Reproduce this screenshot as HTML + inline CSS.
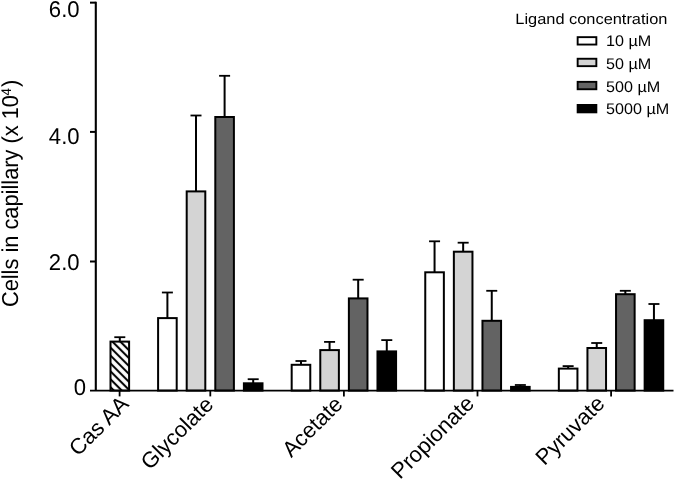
<!DOCTYPE html>
<html><head><meta charset="utf-8"><style>
html,body{margin:0;padding:0;background:#fff;}
body{width:675px;height:481px;overflow:hidden;}
svg{display:block;}
text{text-rendering:geometricPrecision;}
</style></head><body>
<svg width="675" height="481" viewBox="0 0 675 481">
<defs><pattern id="hatch" patternUnits="userSpaceOnUse" x="3.15" y="0" width="5.6" height="5.6" patternTransform="rotate(-45)"><rect x="-1" y="-1" width="8" height="8" fill="#fff"/><rect x="1.75" y="-1" width="2.1" height="8" fill="#000"/></pattern></defs>
<line x1="119.80" y1="341.60" x2="119.80" y2="337.20" stroke="#000" stroke-width="2.0"/>
<line x1="114.30" y1="337.20" x2="125.30" y2="337.20" stroke="#000" stroke-width="1.8"/>
<line x1="167.40" y1="318.10" x2="167.40" y2="292.50" stroke="#000" stroke-width="2.0"/>
<line x1="161.90" y1="292.50" x2="172.90" y2="292.50" stroke="#000" stroke-width="1.8"/>
<line x1="196.00" y1="191.40" x2="196.00" y2="115.50" stroke="#000" stroke-width="2.0"/>
<line x1="190.50" y1="115.50" x2="201.50" y2="115.50" stroke="#000" stroke-width="1.8"/>
<line x1="224.60" y1="117.00" x2="224.60" y2="75.80" stroke="#000" stroke-width="2.0"/>
<line x1="219.10" y1="75.80" x2="230.10" y2="75.80" stroke="#000" stroke-width="1.8"/>
<line x1="253.20" y1="383.30" x2="253.20" y2="379.20" stroke="#000" stroke-width="2.0"/>
<line x1="247.70" y1="379.20" x2="258.70" y2="379.20" stroke="#000" stroke-width="1.8"/>
<line x1="300.98" y1="364.80" x2="300.98" y2="361.00" stroke="#000" stroke-width="2.0"/>
<line x1="295.48" y1="361.00" x2="306.48" y2="361.00" stroke="#000" stroke-width="1.8"/>
<line x1="329.58" y1="350.10" x2="329.58" y2="341.90" stroke="#000" stroke-width="2.0"/>
<line x1="324.08" y1="341.90" x2="335.08" y2="341.90" stroke="#000" stroke-width="1.8"/>
<line x1="358.18" y1="298.40" x2="358.18" y2="279.70" stroke="#000" stroke-width="2.0"/>
<line x1="352.68" y1="279.70" x2="363.68" y2="279.70" stroke="#000" stroke-width="1.8"/>
<line x1="386.78" y1="351.40" x2="386.78" y2="340.10" stroke="#000" stroke-width="2.0"/>
<line x1="381.28" y1="340.10" x2="392.28" y2="340.10" stroke="#000" stroke-width="1.8"/>
<line x1="434.56" y1="272.30" x2="434.56" y2="241.30" stroke="#000" stroke-width="2.0"/>
<line x1="429.06" y1="241.30" x2="440.06" y2="241.30" stroke="#000" stroke-width="1.8"/>
<line x1="463.16" y1="251.70" x2="463.16" y2="242.70" stroke="#000" stroke-width="2.0"/>
<line x1="457.66" y1="242.70" x2="468.66" y2="242.70" stroke="#000" stroke-width="1.8"/>
<line x1="491.76" y1="320.80" x2="491.76" y2="290.80" stroke="#000" stroke-width="2.0"/>
<line x1="486.26" y1="290.80" x2="497.26" y2="290.80" stroke="#000" stroke-width="1.8"/>
<line x1="520.36" y1="386.90" x2="520.36" y2="385.00" stroke="#000" stroke-width="2.0"/>
<line x1="514.86" y1="385.00" x2="525.86" y2="385.00" stroke="#000" stroke-width="1.8"/>
<line x1="568.14" y1="368.60" x2="568.14" y2="366.10" stroke="#000" stroke-width="2.0"/>
<line x1="562.64" y1="366.10" x2="573.64" y2="366.10" stroke="#000" stroke-width="1.8"/>
<line x1="596.74" y1="348.00" x2="596.74" y2="343.00" stroke="#000" stroke-width="2.0"/>
<line x1="591.24" y1="343.00" x2="602.24" y2="343.00" stroke="#000" stroke-width="1.8"/>
<line x1="625.34" y1="294.20" x2="625.34" y2="290.80" stroke="#000" stroke-width="2.0"/>
<line x1="619.84" y1="290.80" x2="630.84" y2="290.80" stroke="#000" stroke-width="1.8"/>
<line x1="653.94" y1="320.20" x2="653.94" y2="304.00" stroke="#000" stroke-width="2.0"/>
<line x1="648.44" y1="304.00" x2="659.44" y2="304.00" stroke="#000" stroke-width="1.8"/>
<rect x="110.50" y="341.60" width="18.60" height="49.00" fill="url(#hatch)" stroke="#000" stroke-width="2"/>
<rect x="158.10" y="318.10" width="18.60" height="72.50" fill="#ffffff" stroke="#000" stroke-width="2"/>
<rect x="186.70" y="191.40" width="18.60" height="199.20" fill="#d4d4d4" stroke="#000" stroke-width="2"/>
<rect x="215.30" y="117.00" width="18.60" height="273.60" fill="#636363" stroke="#000" stroke-width="2"/>
<rect x="243.90" y="383.30" width="18.60" height="7.30" fill="#000000" stroke="#000" stroke-width="2"/>
<rect x="291.68" y="364.80" width="18.60" height="25.80" fill="#ffffff" stroke="#000" stroke-width="2"/>
<rect x="320.28" y="350.10" width="18.60" height="40.50" fill="#d4d4d4" stroke="#000" stroke-width="2"/>
<rect x="348.88" y="298.40" width="18.60" height="92.20" fill="#636363" stroke="#000" stroke-width="2"/>
<rect x="377.48" y="351.40" width="18.60" height="39.20" fill="#000000" stroke="#000" stroke-width="2"/>
<rect x="425.26" y="272.30" width="18.60" height="118.30" fill="#ffffff" stroke="#000" stroke-width="2"/>
<rect x="453.86" y="251.70" width="18.60" height="138.90" fill="#d4d4d4" stroke="#000" stroke-width="2"/>
<rect x="482.46" y="320.80" width="18.60" height="69.80" fill="#636363" stroke="#000" stroke-width="2"/>
<rect x="511.06" y="386.90" width="18.60" height="3.70" fill="#000000" stroke="#000" stroke-width="2"/>
<rect x="558.84" y="368.60" width="18.60" height="22.00" fill="#ffffff" stroke="#000" stroke-width="2"/>
<rect x="587.44" y="348.00" width="18.60" height="42.60" fill="#d4d4d4" stroke="#000" stroke-width="2"/>
<rect x="616.04" y="294.20" width="18.60" height="96.40" fill="#636363" stroke="#000" stroke-width="2"/>
<rect x="644.64" y="320.20" width="18.60" height="70.40" fill="#000000" stroke="#000" stroke-width="2"/>
<line x1="95.8" y1="1.8" x2="95.8" y2="390.6" stroke="#000" stroke-width="2.1"/>
<line x1="90" y1="390.6" x2="673.5" y2="390.6" stroke="#000" stroke-width="1.9"/>
<line x1="90" y1="2.65" x2="95.8" y2="2.65" stroke="#000" stroke-width="2.0"/>
<line x1="90" y1="131.9" x2="95.8" y2="131.9" stroke="#000" stroke-width="2.0"/>
<line x1="90" y1="261.5" x2="95.8" y2="261.5" stroke="#000" stroke-width="2.0"/>
<line x1="119.6" y1="390.6" x2="119.6" y2="396.4" stroke="#000" stroke-width="1.8"/>
<line x1="210.3" y1="390.6" x2="210.3" y2="396.4" stroke="#000" stroke-width="1.8"/>
<line x1="343.9" y1="390.6" x2="343.9" y2="396.4" stroke="#000" stroke-width="1.8"/>
<line x1="477.5" y1="390.6" x2="477.5" y2="396.4" stroke="#000" stroke-width="1.8"/>
<line x1="611.1" y1="390.6" x2="611.1" y2="396.4" stroke="#000" stroke-width="1.8"/>
<g font-family="Liberation Sans, Arial, sans-serif" font-size="22.8" text-anchor="end" fill="#000">
<text transform="translate(79.6,17.4) scale(0.97,1)">6.0</text>
<text transform="translate(79.6,143.70000000000002) scale(0.97,1)">4.0</text>
<text transform="translate(79.6,269.59999999999997) scale(0.97,1)">2.0</text>
<text transform="translate(86.0,395.2) scale(0.97,1)">0</text>
</g>
<text transform="translate(17.6,307.1) rotate(-90) scale(0.948,1)" font-family="Liberation Sans, Arial, sans-serif" font-size="23" fill="#000">Cells in capillary (x 10<tspan dx="-0.6" dy="-6.3" font-size="14">4</tspan><tspan dx="1.2" dy="6.3">)</tspan></text>
<g font-family="Liberation Sans, Arial, sans-serif" font-size="22" text-anchor="end" fill="#000">
<text transform="translate(129.9,405.2) rotate(-45)">Cas AA</text>
<text transform="translate(214.6,405.8) rotate(-45)">Glycolate</text>
<text transform="translate(343.9,405.5) rotate(-45)">Acetate</text>
<text transform="translate(475.3,404.8) rotate(-45)">Propionate</text>
<text transform="translate(605.9,404.9) rotate(-45)">Pyruvate</text>
</g>
<g font-family="Liberation Sans, Arial, sans-serif" fill="#000">
<text transform="translate(515.3,24.3) scale(1.092,1)" font-size="15">Ligand concentration</text>
<rect x="577.65" y="37.15" width="18.7" height="7.4" fill="#ffffff" stroke="#000" stroke-width="1.9"/>
<text transform="translate(606.0,46.2) scale(1.05,1)" font-size="15.4">10 µM</text>
<rect x="577.65" y="58.75" width="18.7" height="7.4" fill="#d4d4d4" stroke="#000" stroke-width="1.9"/>
<text transform="translate(606.0,68.6) scale(1.05,1)" font-size="15.4">50 µM</text>
<rect x="577.65" y="81.85" width="18.7" height="7.4" fill="#636363" stroke="#000" stroke-width="1.9"/>
<text transform="translate(606.0,91.6) scale(1.05,1)" font-size="15.4">500 µM</text>
<rect x="577.65" y="104.95" width="18.7" height="7.4" fill="#000000" stroke="#000" stroke-width="1.9"/>
<text transform="translate(606.0,113.8) scale(1.05,1)" font-size="15.4">5000 µM</text>
</g>
</svg>
</body></html>
